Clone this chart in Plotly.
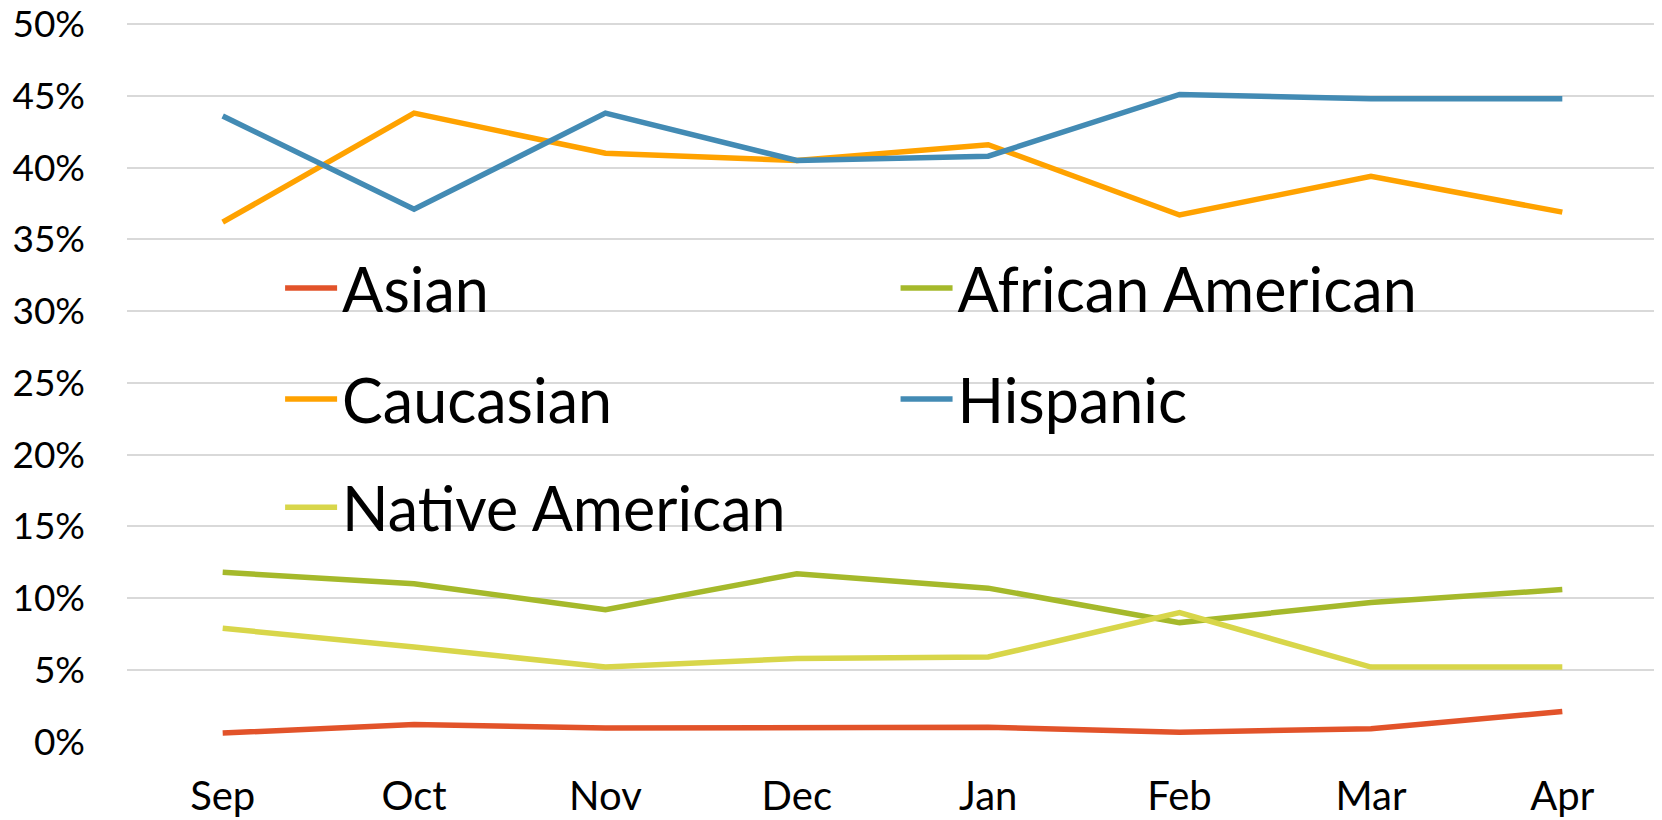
import plotly.graph_objects as go

months = ["Sep", "Oct", "Nov", "Dec", "Jan", "Feb", "Mar", "Apr"]
asian = [0.006, 0.012, 0.0095, 0.010, 0.010, 0.0066, 0.009, 0.021]
african_american = [0.118, 0.110, 0.092, 0.117, 0.107, 0.083, 0.097, 0.106]
caucasian = [0.362, 0.438, 0.410, 0.405, 0.416, 0.367, 0.394, 0.369]
hispanic = [0.436, 0.371, 0.438, 0.405, 0.408, 0.451, 0.448, 0.448]
native_american = [0.079, 0.066, 0.052, 0.058, 0.059, 0.090, 0.052, 0.052]
y_ticks = [0.0, 0.05, 0.10, 0.15, 0.20, 0.25, 0.30, 0.35, 0.40, 0.45, 0.50]
y_tick_labels = ["0%", "5%", "10%", "15%", "20%", "25%", "30%", "35%", "40%", "45%", "50%"]

series = [
    ("Asian", asian, "#E2532A", "legend"),
    ("African American", african_american, "#A5B92B", "legend2"),
    ("Caucasian", caucasian, "#FFA200", "legend3"),
    ("Hispanic", hispanic, "#438BB4", "legend4"),
    ("Native American", native_american, "#D8D64A", "legend5"),
]

fig = go.Figure()
for name, vals, color, lg in series:
    fig.add_trace(go.Scatter(
        x=months, y=vals, name=name, mode="lines",
        line=dict(color=color, width=5.5),
        cliponaxis=False, legend=lg, showlegend=True,
    ))

FONT = "Lato"
lfont = dict(family=FONT, size=61, color="black")
col1, col2 = 0.100, 0.502
row1, row2, row3 = 0.630, 0.476, 0.3255

def leg(x, y):
    return dict(x=x, y=y, xanchor="left", yanchor="middle", font=lfont,
                bgcolor="rgba(0,0,0,0)", itemwidth=52, borderwidth=0,
                visible=True)

fig.update_layout(
    width=1654, height=812,
    margin=dict(l=119, r=4, t=14, b=78),
    paper_bgcolor="white", plot_bgcolor="white",
    font=dict(family=FONT, color="black"),
    showlegend=True,
    legend=leg(col1, row1),
    legend2=leg(col2, row1),
    legend3=leg(col1, row2),
    legend4=leg(col2, row2),
    legend5=leg(col1, row3),
    xaxis=dict(
        type="category", range=[-0.5, 7.5], showgrid=False, zeroline=False,
        showline=False, ticks="", tickfont=dict(family=FONT, size=40, color="black"),
        ticklabelstandoff=27, automargin=False,
    ),
    yaxis=dict(
        range=[-0.0002, 0.5015], tickmode="array", tickvals=y_ticks,
        ticktext=y_tick_labels, showgrid=True,
        gridcolor="#D9D9D9", gridwidth=2, zeroline=False, showline=False,
        ticks="", tickfont=dict(family=FONT, size=37, color="black"),
        ticklabelstandoff=41, automargin=False, ticklabeloverflow="allow",
    ),
)

fig.write_html("out.html")
